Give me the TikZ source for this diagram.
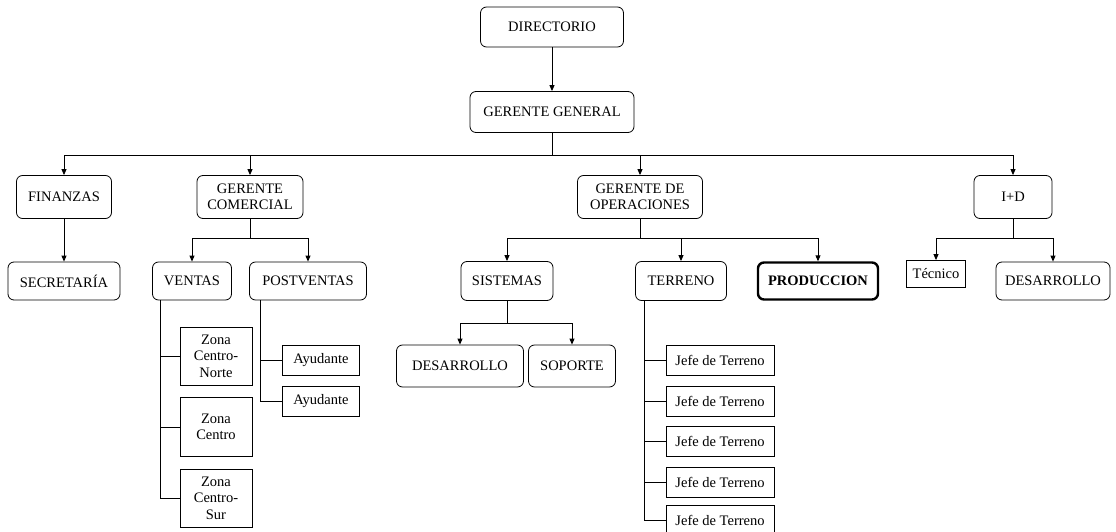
\documentclass[tikz,border=0pt]{standalone}
\usepackage{fontspec}
\setmainfont{Liberation Serif}
\usepackage{tikz}
\usetikzlibrary{arrows.meta, positioning, calc}

\begin{document}
\begin{tikzpicture}[x=1pt, y=-1pt,
  every node/.style={font=\fontsize{14.5}{16.5}\selectfont, align=center, inner sep=1pt},
  rbox/.style={draw, line width=0.8pt, rounded corners=6pt},
  sbox/.style={draw, line width=0.8pt},
  line/.style={draw, line width=0.9pt},
  arr/.style={draw, line width=0.9pt, -{Triangle[length=6pt,width=5pt]}}]
\useasboundingbox (0,0) rectangle (1116,532);
% top
\node[rbox, minimum width=143pt, minimum height=40pt] (dir) at (552,27) {DIRECTORIO};
\node[rbox, minimum width=164pt, minimum height=41pt] (gg) at (552,112) {GERENTE GENERAL};
% level 2
\node[rbox, minimum width=95pt, minimum height=43pt] (fin) at (64,197) {FINANZAS};
\node[rbox, minimum width=106pt, minimum height=43pt] (gc) at (250,197) {GERENTE\\COMERCIAL};
\node[rbox, minimum width=125pt, minimum height=43pt] (gop) at (640,197) {GERENTE DE\\OPERACIONES};
\node[rbox, minimum width=78pt, minimum height=43pt] (id) at (1013,197) {I+D};
% level 3
\node[rbox, minimum width=112pt, minimum height=38pt] (sec) at (64,281) {SECRETARÍA};
\node[rbox, minimum width=79pt, minimum height=38pt] (ven) at (192,281) {VENTAS};
\node[rbox, minimum width=117pt, minimum height=38pt] (post) at (308,281) {POSTVENTAS};
\node[rbox, minimum width=92pt, minimum height=39pt] (sis) at (507,281) {SISTEMAS};
\node[rbox, minimum width=91pt, minimum height=39pt] (ter) at (681,281) {TERRENO};
\node[rbox, line width=2.4pt, minimum width=120pt, minimum height=37pt, font=\fontsize{14.5}{16.5}\selectfont\bfseries] (prod) at (818,281) {PRODUCCION};
\node[sbox, minimum width=59pt, minimum height=27pt] (tec) at (936,274) {Técnico};
\node[rbox, minimum width=114pt, minimum height=38pt] (des2) at (1053,281) {DESARROLLO};
% level 4
\node[sbox, minimum width=72pt, minimum height=58pt] (z1) at (216,356) {Zona\\Centro-\\Norte};
\node[sbox, minimum width=72pt, minimum height=59pt] (z2) at (216,427) {Zona\\Centro};
\node[sbox, minimum width=72pt, minimum height=58pt] (z3) at (216,498) {Zona\\Centro-\\Sur};
\node[sbox, minimum width=77pt, minimum height=30pt] (ay1) at (321,360) {Ayudante};
\node[sbox, minimum width=77pt, minimum height=30pt] (ay2) at (321,401) {Ayudante};
\node[rbox, minimum width=127pt, minimum height=42pt] (des1) at (460,366) {DESARROLLO};
\node[rbox, minimum width=87pt, minimum height=42pt] (sop) at (572,366) {SOPORTE};
\foreach \i/\y in {1/360, 2/401, 3/441, 4/482, 5/520} {
  \node[sbox, minimum width=108pt, minimum height=30pt] (j\i) at (720,\y) {Jefe de Terreno};
}
% connectors
\draw[arr] (dir) -- (gg);
\coordinate (b0) at (552,155);
\draw[line] (gg.south) -- (b0);
\foreach \t in {fin, gc, gop, id} { \draw[arr] (b0) -| (\t.north); }
\draw[arr] (fin) -- (sec);
\coordinate (b1) at (250,238);
\draw[line] (gc.south) -- (b1);
\foreach \t in {ven, post} { \draw[arr] (b1) -| (\t.north); }
\coordinate (b2) at (640,238);
\draw[line] (gop.south) -- (b2);
\foreach \t in {sis, ter, prod} { \draw[arr] (b2) -| (\t.north); }
\coordinate (b3) at (1013,238);
\draw[line] (id.south) -- (b3);
\foreach \t in {tec, des2} { \draw[arr] (b3) -| (\t.north); }
\coordinate (b4) at (507,323);
\draw[line] (sis.south) -- (b4);
\foreach \t in {des1, sop} { \draw[arr] (b4) -| (\t.north); }
% side branches
\coordinate (vx) at ($(ven.south west)+(8,0)$);
\draw[line] (vx) |- (z3.west);
\foreach \t in {z1, z2} { \draw[line] (vx |- \t.west) -- (\t.west); }
\coordinate (px) at ($(post.south west)+(11,0)$);
\draw[line] (px) |- (ay2.west);
\draw[line] (px |- ay1.west) -- (ay1.west);
\coordinate (tx) at ($(ter.south west)+(9,0)$);
\draw[line] (tx) |- (j5.west);
\foreach \i in {1,...,4} { \draw[line] (tx |- j\i.west) -- (j\i.west); }
\end{tikzpicture}
\end{document}
